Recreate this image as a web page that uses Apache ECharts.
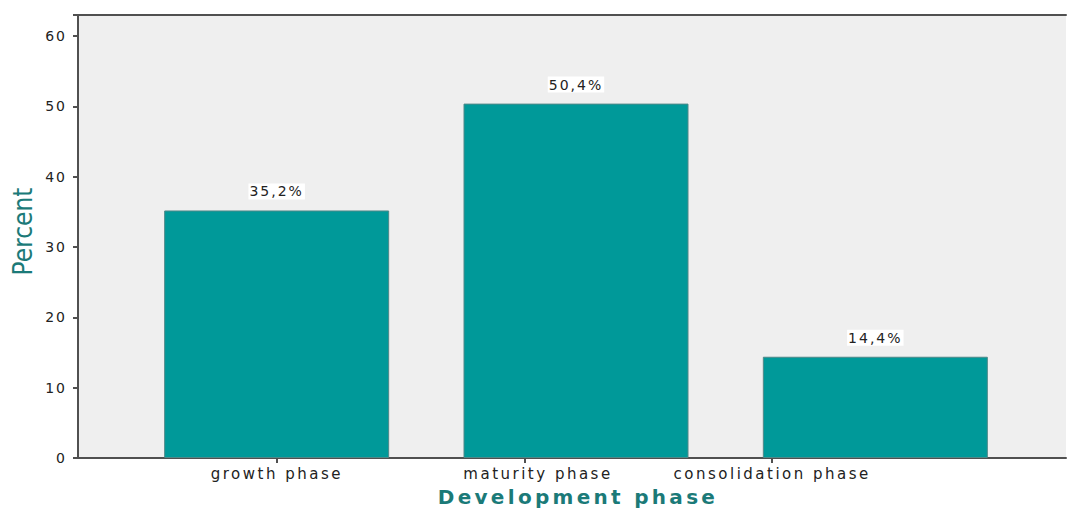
<!DOCTYPE html>
<html>
<head>
<meta charset="utf-8">
<script src="https://cdn.jsdelivr.net/npm/echarts@6/dist/echarts.min.js"></script>
<style>
  html, body { margin: 0; padding: 0; background: #ffffff; }
  #chart { width: 1067px; height: 508px; }
  #chart svg text { letter-spacing: 2px; }
  #chart svg text[style*="15px"] { letter-spacing: 2.5px; }
  #chart svg text[style*="bold"] { letter-spacing: 3.3px; }
  #chart svg text[style*="Narrow"] { letter-spacing: 0px; }
</style>
</head>
<body>
<div id="chart"></div>
<script>
// ---- data ----
const categories = ['growth phase', 'maturity phase', 'consolidation phase'];
const percents = [35.2, 50.4, 14.4];
const yTickLabels = [0, 10, 20, 30, 40, 50, 60];
const yMin = 0;
const yMax = 63;
const yStep = 10;
const xTitle = 'Development phase';
const yTitle = 'Percent';

const teal = '#009999';
const titleColor = '#1b7a78';
const axisColor = '#505050';
const textColor = '#222222';

const chart = echarts.init(document.getElementById('chart'), null, { renderer: 'svg' });

const option = {
  animation: false,
  backgroundColor: '#ffffff',
  grid: [
    { left: 78, right: 1, top: 15, bottom: 50, show: true, backgroundColor: '#efefef', borderWidth: 0, outerBoundsMode: 'none', containLabel: false },
    { left: 127, right: 42, top: 15, bottom: 50, outerBoundsMode: 'none', containLabel: false },
    { left: 153, right: 171, top: 15, bottom: 50, outerBoundsMode: 'none', containLabel: false }
  ],
  xAxis: [
    {
      gridIndex: 0, type: 'value', min: 0, max: 1, position: 'bottom',
      axisLine: { show: true, lineStyle: { color: axisColor, width: 2 } },
      axisTick: { show: false }, axisLabel: { show: false }, splitLine: { show: false },
      name: xTitle, nameLocation: 'middle', nameGap: 29,
      nameTextStyle: { color: titleColor, fontSize: 20, fontWeight: 'bold', fontFamily: 'DejaVu Sans', padding: [0, 0, 0, 12] }
    },
    {
      gridIndex: 0, type: 'value', min: 0, max: 1, position: 'top',
      axisLine: { show: true, lineStyle: { color: axisColor, width: 2 } },
      axisTick: { show: false }, axisLabel: { show: false }, splitLine: { show: false }
    },
    {
      gridIndex: 1, type: 'category', data: categories,
      axisLine: { show: false }, axisTick: { show: false }, axisLabel: { show: false }
    },
    {
      gridIndex: 2, type: 'category', data: categories,
      axisLine: { show: false },
      axisTick: { show: true, alignWithLabel: true, length: 5, lineStyle: { color: axisColor, width: 2 } },
      axisLabel: {
        interval: 0, margin: 8,
        formatter: function (v) { return v === 'maturity phase' ? '{m|' + v + '}' : '{n|' + v + '}'; },
        rich: {
          n: { fontSize: 15, fontFamily: 'DejaVu Sans', color: textColor },
          m: { fontSize: 15, fontFamily: 'DejaVu Sans', color: textColor, padding: [0, 0, 0, 27] }
        }
      }
    }
  ],
  yAxis: [
    {
      gridIndex: 0, type: 'value', min: yMin, max: yMax, interval: yStep,
      axisLine: { show: true, lineStyle: { color: axisColor, width: 2 } },
      axisTick: { show: true, length: 5, lineStyle: { color: axisColor, width: 2 } },
      axisLabel: {
        margin: 11, fontSize: 14, fontFamily: 'DejaVu Sans', color: textColor,
        formatter: function (v) { return yTickLabels.indexOf(v) >= 0 ? String(v) : ''; }
      },
      splitLine: { show: false },
      name: yTitle, nameLocation: 'middle', nameGap: 42, nameRotate: 90,
      nameTextStyle: { color: titleColor, fontSize: 26, fontFamily: "'Liberation Sans Narrow', 'DejaVu Sans Condensed', sans-serif", padding: [0, 0, 0, 10] }
    },
    { gridIndex: 1, type: 'value', min: yMin, max: yMax, show: false },
    { gridIndex: 2, type: 'value', min: yMin, max: yMax, show: false }
  ],
  series: [
    {
      type: 'bar', xAxisIndex: 2, yAxisIndex: 1,
      data: percents, barWidth: 225,
      itemStyle: { color: teal, borderColor: '#4f8888', borderWidth: 1 },
      label: {
        show: true, position: 'top', distance: 11,
        fontSize: 14, fontFamily: 'DejaVu Sans', color: textColor,
        backgroundColor: '#ffffff', padding: [1, 6, 1, 6],
        formatter: function (p) { return p.value.toFixed(1).replace('.', ',') + '%'; }
      }
    }
  ]
};
chart.setOption(option);
</script>
</body>
</html>
